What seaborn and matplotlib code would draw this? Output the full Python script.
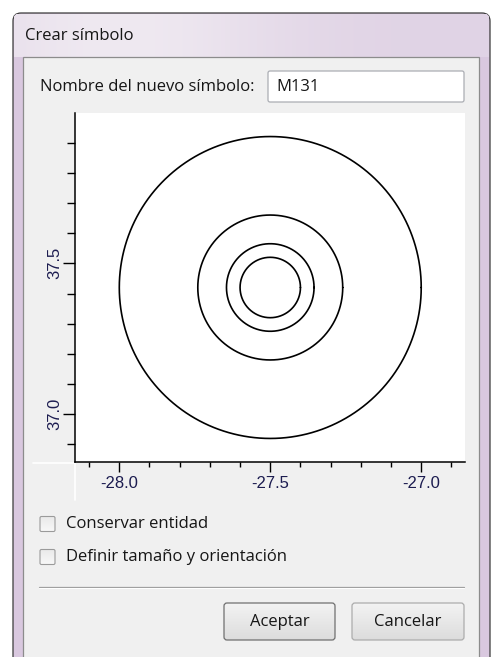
import numpy as np
import pandas as pd
import matplotlib
matplotlib.use('Agg')
import matplotlib.pyplot as plt
from matplotlib.patches import FancyBboxPatch, Rectangle
from matplotlib.ticker import MultipleLocator
import seaborn as sns

# symbol rings (data units)
ring_radii = [0.5, 0.24, 0.145, 0.1]
ring_center_x = [-27.5, -27.5, -27.5, -27.5]
ring_center_y = [37.42, 37.42, 37.42, 37.42]

x_ticks = [-28.0, -27.5, -27.0]
x_tick_labels = ['-28.0', '-27.5', '-27.0']
y_ticks = [37.0, 37.5]
y_tick_labels = ['37.0', '37.5']
x_limits = [-28.1467, -26.855]
y_limits = [36.842, 37.998]

title_text = 'Crear símbolo'
name_label = 'Nombre del nuevo símbolo:'
name_value = 'M131'
check_labels = ['Conservar entidad', 'Definir tamaño y orientación']
button_labels = ['Aceptar', 'Cancelar']

W, H = 493, 657
sns.set_theme(style='ticks')
plt.rcParams['font.family'] = ['Open Sans', 'DejaVu Sans']
ui_size = 12
text_col = '#161616'


def gradient_box(ax, x, y, w, h, top, bottom, edge, radius, lw=0.9):
    box = FancyBboxPatch((x, y), w, h, boxstyle=f'round,pad=0,rounding_size={radius}',
                         facecolor='none', edgecolor=edge, linewidth=lw, zorder=3)
    ax.add_patch(box)
    c1 = np.array(matplotlib.colors.to_rgb(top))
    c2 = np.array(matplotlib.colors.to_rgb(bottom))
    t = np.linspace(0, 1, 64)[:, None, None]
    img = c1 * (1 - t) + c2 * t
    im = ax.imshow(img, extent=(x, x + w, y + h, y), aspect='auto', zorder=2, interpolation='bilinear')
    im.set_clip_path(box)
    return box


fig = plt.figure(figsize=(W / 100, H / 100), dpi=100, facecolor='white')
bg = fig.add_axes([0, 0, 1, 1])
bg.set_xlim(0, W)
bg.set_ylim(H, 0)
bg.axis('off')

# window frame
frame = FancyBboxPatch((13, 13), 477, 700, boxstyle='round,pad=0,rounding_size=8',
                       facecolor='#d9c8df', edgecolor='#3c3c3c', linewidth=0.9, zorder=1)
bg.add_patch(frame)
gx = np.linspace(0, 1, 200)
glow = np.exp(-((gx - 0.22) / 0.35) ** 2)
c_lo = np.array(matplotlib.colors.to_rgb('#e0d3e5'))
c_hi = np.array(matplotlib.colors.to_rgb('#efe9f1'))
title_img = c_lo * (1 - glow[None, :, None]) + c_hi * glow[None, :, None]
im = bg.imshow(np.repeat(title_img, 4, axis=0), extent=(14, 489, 57, 14), aspect='auto', zorder=1.5)
im.set_clip_path(frame)
bg.text(25, 36, title_text, fontsize=ui_size, color=text_col, va='center', ha='left', zorder=4)

# client panel
bg.add_patch(Rectangle((23, 57), 456, 700, facecolor='#f0f0f0', edgecolor='#8c8c8c',
                       linewidth=0.9, zorder=2))

# name field
bg.text(40, 87, name_label, fontsize=ui_size, color=text_col, va='center', ha='left', zorder=4)
bg.add_patch(FancyBboxPatch((268, 71), 196, 31, boxstyle='round,pad=0,rounding_size=2',
                            facecolor='white', edgecolor='#abadb3', linewidth=0.9, zorder=3))
bg.text(276, 87, name_value, fontsize=ui_size, color=text_col, va='center', ha='left', zorder=4)

# widget borders below the plot
bg.plot([75, 75], [462, 500], color='white', lw=1.2, zorder=3)
bg.plot([33, 75], [463, 463], color='white', lw=1.2, zorder=3)

# check boxes
for i, lab in enumerate(check_labels):
    yc = 524 + i * 33
    gradient_box(bg, 40, yc - 7.5, 15, 15, '#e9e9e9', '#f8f8f8', '#9a9a9a', 1.5, lw=0.8)
    bg.text(66, yc, lab, fontsize=ui_size, color=text_col, va='center', ha='left', zorder=4)

# separator
bg.plot([39, 464], [586.5, 586.5], color='#a0a0a0', lw=0.9, zorder=3)
bg.plot([39, 464], [587.5, 587.5], color='#ffffff', lw=0.7, zorder=3)

# buttons
btn_x = [224, 352]
btn_w = [111, 112]
btn_edge = ['#6f6f6f', '#acacac']
for bx, bw, be, lab in zip(btn_x, btn_w, btn_edge, button_labels):
    gradient_box(bg, bx, 603, bw, 37, '#f3f3f3', '#dcdcdc', be, 3)
    bg.text(bx + bw / 2, 621.5, lab, fontsize=ui_size, color=text_col, va='center', ha='center', zorder=4)

# plot area
left, right, top, bottom = 75, 465, 113, 462
ax = fig.add_axes([left / W, 1 - bottom / H, (right - left) / W, (bottom - top) / H])
ax.set_facecolor('white')

rows = []
theta = np.linspace(0, 2 * np.pi, 361)
for k, (cx, cy, r) in enumerate(zip(ring_center_x, ring_center_y, ring_radii)):
    rows.append(pd.DataFrame({'ring': k, 'x': cx + r * np.cos(theta), 'y': cy + r * np.sin(theta)}))
rings = pd.concat(rows, ignore_index=True)
sns.lineplot(data=rings, x='x', y='y', units='ring', estimator=None, sort=False,
             color='black', linewidth=1.2, ax=ax)

ax.set_xlim(*x_limits)
ax.set_ylim(*y_limits)
ax.set_xlabel('')
ax.set_ylabel('')
for s in ['top', 'right']:
    ax.spines[s].set_visible(False)
for s in ['left', 'bottom']:
    ax.spines[s].set_color('black')
    ax.spines[s].set_linewidth(1.1)

ax.xaxis.set_minor_locator(MultipleLocator(0.1))
ax.yaxis.set_minor_locator(MultipleLocator(0.1))
ax.set_xticks(x_ticks)
ax.set_xticklabels(x_tick_labels, family=['Liberation Sans', 'DejaVu Sans'], fontsize=12, color='#1c1c50')
ax.set_yticks(y_ticks)
ax.set_yticklabels(y_tick_labels, family=['Liberation Sans', 'DejaVu Sans'], fontsize=12, color='#1c1c50',
                   rotation=90, va='center')
ax.tick_params(axis='x', which='major', direction='out', length=7.2, width=1.0, pad=3.0, color='black')
ax.tick_params(axis='x', which='minor', direction='out', length=3.8, width=1.0, color='black')
ax.tick_params(axis='y', which='major', direction='out', length=8.6, width=1.0, pad=0.8, color='black')
ax.tick_params(axis='y', which='minor', direction='out', length=5.8, width=1.0, color='black')

fig.savefig('out.png', dpi=100, facecolor='white')
